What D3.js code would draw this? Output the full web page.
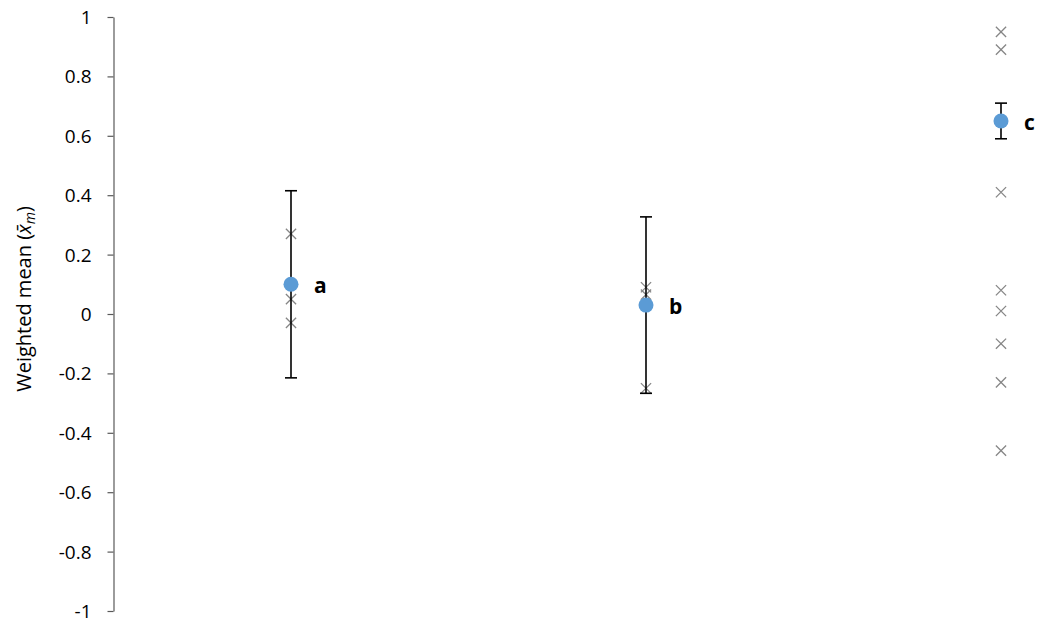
<!DOCTYPE html>
<html>
<head>
<meta charset="utf-8">
<script src="https://cdn.jsdelivr.net/npm/d3@7"></script>
<style>
  html, body { margin: 0; padding: 0; background: #fff; }
  svg { display: block; font-family: "Open Sans", "Liberation Sans", sans-serif; }
</style>
</head>
<body>
<svg id="chart" width="1039" height="626"></svg>
<script>
// Groups and their weighted means with error half-widths
const groups = ["a", "b", "c"];
const groupPos = [1, 2, 3];
const means = [0.10, 0.03, 0.65];
const errors = [0.315, 0.297, 0.06];

// Individual observations per group
const obsA = [0.27, 0.05, -0.03];
const obsB = [0.09, 0.065, -0.25];
const obsC = [0.95, 0.89, 0.41, 0.08, 0.01, -0.10, -0.23, -0.46];

const yTicks = [1, 0.8, 0.6, 0.4, 0.2, 0, -0.2, -0.4, -0.6, -0.8, -1];

const svg = d3.select("#chart");

const x = d3.scaleLinear().domain([1, 3]).range([291, 1001]);
const y = d3.scaleLinear().domain([-1, 1]).range([611, 17]);

// Y axis
const yAxis = d3.axisLeft(y)
  .tickValues(yTicks)
  .tickSize(6)
  .tickSizeOuter(0)
  .tickFormat(d => d === 0 ? "0" : String(d));

const gy = svg.append("g")
  .attr("transform", "translate(113.5,0)")
  .call(yAxis);
gy.attr("font-size", null).attr("font-family", null);
gy.select(".domain").attr("stroke", "#595959").attr("stroke-width", 1.2);
gy.selectAll(".tick line").attr("stroke", "#595959").attr("stroke-width", 1.2);
gy.selectAll(".tick text")
  .attr("x", -22)
  .attr("dy", "0.34em")
  .style("font-size", "19px")
  .attr("fill", "#000");

// Y axis title: weighted mean with an overlined x and subscript m
const title = svg.append("text")
  .attr("transform", "translate(31,299) rotate(-90)")
  .attr("text-anchor", "middle")
  .style("font-size", "20px")
  .attr("fill", "#000");
title.append("tspan").text("Weighted mean (");
title.append("tspan").attr("font-style", "italic").text("x\u0304");
title.append("tspan").attr("font-style", "italic").style("font-size", "14px").attr("dy", 4).text("m");
title.append("tspan").attr("dy", -4).text(")");

// Observation crosses
const obs = [obsA, obsB, obsC];
const cross = d3.symbol().type(d3.symbolX).size(70);
obs.forEach((vals, i) => {
  svg.append("g").selectAll("path")
    .data(vals)
    .join("path")
    .attr("d", cross)
    .attr("transform", d => `translate(${x(groupPos[i])},${y(d)})`)
    .attr("fill", "none")
    .attr("stroke", "#868686")
    .attr("stroke-width", 1.3);
});

// Error bars
const eb = svg.append("g").attr("stroke", "#000").attr("stroke-width", 1.6);
groups.forEach((g, i) => {
  const cx = x(groupPos[i]);
  const top = y(means[i] + errors[i]);
  const bot = y(means[i] - errors[i]);
  eb.append("line").attr("x1", cx).attr("x2", cx).attr("y1", top).attr("y2", bot);
  eb.append("line").attr("x1", cx - 6).attr("x2", cx + 6).attr("y1", top).attr("y2", top);
  eb.append("line").attr("x1", cx - 6).attr("x2", cx + 6).attr("y1", bot).attr("y2", bot);
});

// Mean markers
svg.append("g").selectAll("circle")
  .data(groups)
  .join("circle")
  .attr("cx", (d, i) => x(groupPos[i]))
  .attr("cy", (d, i) => y(means[i]))
  .attr("r", 7.5)
  .attr("fill", "#5b9bd5");

// Group letters
svg.append("g").selectAll("text")
  .data(groups)
  .join("text")
  .attr("x", (d, i) => x(groupPos[i]) + 23)
  .attr("y", (d, i) => y(means[i]) + 9)
  .style("font-size", "21px")
  .attr("font-weight", "bold")
  .attr("fill", "#000")
  .text(d => d);
</script>
</body>
</html>
